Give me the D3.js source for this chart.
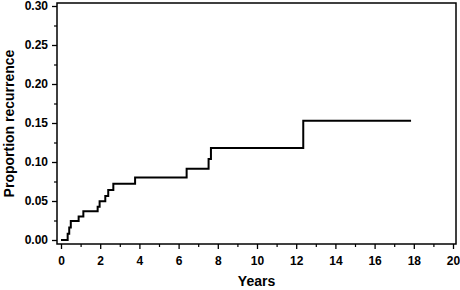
<!DOCTYPE html>
<html>
<head>
<meta charset="utf-8">
<script src="https://cdn.jsdelivr.net/npm/d3@7"></script>
<style>
  body { margin: 0; background: #fff; }
  text { font-family: "Liberation Sans", Arial, Helvetica, sans-serif; font-weight: bold; }
</style>
</head>
<body>
<div id="chart"></div>
<script>
// step times (years) and cumulative proportion of recurrence
var times = [0, 0.34, 0.42, 0.50, 0.90, 1.14, 1.87, 1.97, 2.26, 2.41, 2.67, 3.78, 6.41, 7.53, 7.65, 12.36];
var props = [0, 0.008, 0.016, 0.0244, 0.030, 0.0368, 0.0427, 0.0496, 0.0564, 0.064, 0.072, 0.080, 0.0914, 0.104, 0.118, 0.153];
var lastTime = 17.86;

var xTicks = [0, 2, 4, 6, 8, 10, 12, 14, 16, 18, 20];
var xMinor = d3.range(1, 20, 2);
var yTicks = [0, 0.05, 0.10, 0.15, 0.20, 0.25, 0.30];
var yMinor = [0.025, 0.075, 0.125, 0.175, 0.225, 0.275];

var width = 460, height = 290;
var frame = {left: 57, top: 3, right: 456, bottom: 244};

var x = d3.scaleLinear().domain([0, 20]).range([61, 453]);
var y = d3.scaleLinear().domain([0, 0.30]).range([240, 6]);

var svg = d3.select("#chart").append("svg")
    .attr("width", width)
    .attr("height", height);

// frame box
svg.append("rect")
    .attr("x", frame.left)
    .attr("y", frame.top)
    .attr("width", frame.right - frame.left)
    .attr("height", frame.bottom - frame.top)
    .attr("fill", "none")
    .attr("stroke", "#000")
    .attr("stroke-width", 1.5);

// y axis
var yAxis = svg.append("g")
    .attr("transform", "translate(" + frame.left + ",0)")
    .call(d3.axisLeft(y).tickValues(yTicks).tickFormat(d3.format(".2f")).tickSize(5).tickPadding(4).tickSizeOuter(0));
yAxis.select(".domain").remove();
yAxis.selectAll("line").attr("stroke-width", 1.3);
yAxis.selectAll("text").style("font-size", "12px").attr("fill", "#000");

var yAxisMinor = svg.append("g")
    .attr("transform", "translate(" + frame.left + ",0)")
    .call(d3.axisLeft(y).tickValues(yMinor).tickFormat("").tickSize(3).tickSizeOuter(0));
yAxisMinor.select(".domain").remove();
yAxisMinor.selectAll("line").attr("stroke-width", 1.2);

// x axis
var xAxis = svg.append("g")
    .attr("transform", "translate(0," + frame.bottom + ")")
    .call(d3.axisBottom(x).tickValues(xTicks).tickFormat(d3.format("d")).tickSize(5).tickPadding(7).tickSizeOuter(0));
xAxis.select(".domain").remove();
xAxis.selectAll("line").attr("stroke-width", 1.3);
xAxis.selectAll("text").style("font-size", "12px").attr("fill", "#000");

var xAxisMinor = svg.append("g")
    .attr("transform", "translate(0," + frame.bottom + ")")
    .call(d3.axisBottom(x).tickValues(xMinor).tickFormat("").tickSize(3).tickSizeOuter(0));
xAxisMinor.select(".domain").remove();
xAxisMinor.selectAll("line").attr("stroke-width", 1.2);

// axis titles
svg.append("text")
    .attr("x", (frame.left + frame.right) / 2)
    .attr("y", 286)
    .attr("text-anchor", "middle")
    .style("font-size", "14px")
    .text("Years");

svg.append("text")
    .attr("transform", "translate(14," + ((frame.top + frame.bottom) / 2) + ") rotate(-90)")
    .attr("text-anchor", "middle")
    .style("font-size", "14px")
    .text("Proportion recurrence");

// step curve
var pts = times.map(function(t, i) { return [t, props[i]]; });
pts.push([lastTime, props[props.length - 1]]);

var line = d3.line()
    .x(function(d) { return x(d[0]); })
    .y(function(d) { return y(d[1]); })
    .curve(d3.curveStepAfter);

svg.append("path")
    .datum(pts)
    .attr("d", line)
    .attr("fill", "none")
    .attr("stroke", "#000")
    .attr("stroke-width", 2);
</script>
</body>
</html>
